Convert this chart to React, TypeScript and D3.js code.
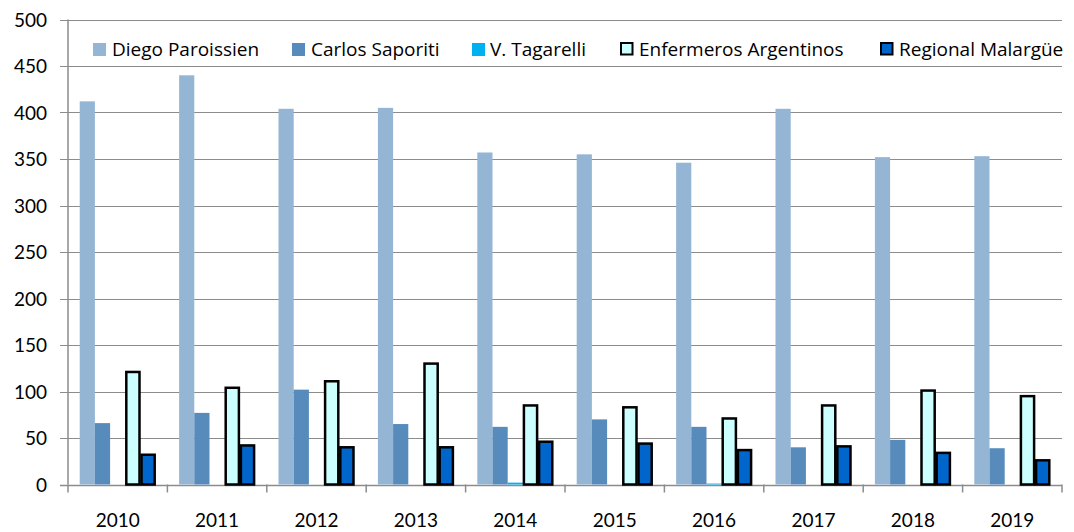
import React from "react";
import * as d3 from "d3";

const years = ["2010", "2011", "2012", "2013", "2014", "2015", "2016", "2017", "2018", "2019"];
const seriesNames = ["Diego Paroissien", "Carlos Saporiti", "V. Tagarelli", "Enfermeros Argentinos", "Regional Malargüe"];
const diego = [412, 440, 404, 405, 357, 355, 346, 404, 352, 353];
const carlos = [66, 77, 102, 65, 62, 70, 62, 40, 48, 39];
const tagarelli = [0, 0, 0, 0, 2, 0, 1, 0, 0, 0];
const enfermeros = [121, 104, 111, 130, 85, 83, 71, 85, 101, 95];
const malargue = [32, 42, 40, 40, 46, 44, 37, 41, 34, 26];
const yTicks = [0, 50, 100, 150, 200, 250, 300, 350, 400, 450, 500];

const seriesValues = [diego, carlos, tagarelli, enfermeros, malargue];
const fills = ["#95B5D5", "#568BBB", "#00B0F0", "#CCFFFF", "#0066CC"];
const strokes = [null, null, null, "#000", "#000"];

const W = 1074, H = 532;
const left = 68, right = 1062, top = 19.5, bottom = 484.5;
const AXFONT = "Lato, 'Open Sans', sans-serif";
const LGFONT = "'Open Sans', Lato, sans-serif";

export default function App() {
  const x = d3.scaleBand().domain(years).range([left, right]).paddingInner(0).paddingOuter(0);
  const inner = d3.scaleBand().domain(seriesNames).range([0, x.bandwidth()]).paddingOuter(0.77).paddingInner(0);
  const y = d3.scaleLinear().domain([0, 500]).range([bottom, top]);

  const legendItems = [
    { mx: 93, tx: 112 },
    { mx: 292, tx: 311 },
    { mx: 472, tx: 490 },
    { mx: 620, tx: 639 },
    { mx: 880, tx: 899 },
  ];

  return (
    <svg width={W} height={H} style={{ position: "absolute", left: 0, top: 0, background: "#fff" }}>
      {yTicks.map((t) => (
        <line key={t} x1={left - 8} x2={right} y1={Math.round(y(t)) + 0.5} y2={Math.round(y(t)) + 0.5}
          stroke="#8C8C8C" strokeWidth={t === 0 ? 1.5 : 1.2} />
      ))}
      <line x1={left} x2={left} y1={top} y2={bottom} stroke="#8C8C8C" strokeWidth={1.5} />
      {years.map((yr) => (
        <line key={yr} x1={x(yr)!} x2={x(yr)!} y1={bottom} y2={bottom + 8} stroke="#8C8C8C" strokeWidth={1.5} />
      ))}
      <line x1={right} x2={right} y1={bottom} y2={bottom + 8} stroke="#8C8C8C" strokeWidth={1.5} />
      {yTicks.map((t) => (
        <text key={t} x={47} y={y(t) + 7} textAnchor="end" fontFamily={AXFONT} fontSize={19} fill="#000">{t}</text>
      ))}
      {years.map((yr) => (
        <text key={yr} x={x(yr)! + x.bandwidth() / 2} y={527} textAnchor="middle" fontFamily={AXFONT} fontSize={19} fill="#000">{yr}</text>
      ))}
      {years.map((yr, i) => (
        <g key={yr}>
          {seriesNames.map((s, j) => {
            const v = seriesValues[j][i];
            if (v <= 0) return null;
            const bx = x(yr)! + inner(s)!;
            const bw = inner.bandwidth();
            const st = strokes[j];
            if (st) {
              return (
                <rect key={s} x={bx + 1} y={y(v)} width={bw - 2} height={bottom - y(v)}
                  fill={fills[j]} stroke={st} strokeWidth={2.5} />
              );
            }
            return <rect key={s} x={bx} y={y(v)} width={bw} height={bottom - y(v)} fill={fills[j]} />;
          })}
        </g>
      ))}
      <rect x={80} y={30} width={982} height={33} fill="#fff" />
      {seriesNames.map((s, j) => (
        <g key={s}>
          {strokes[j] ? (
            <rect x={legendItems[j].mx + 1} y={43} width={11.5} height={11.5} fill={fills[j]} stroke="#000" strokeWidth={2} />
          ) : (
            <rect x={legendItems[j].mx} y={43} width={13} height={13} fill={fills[j]} />
          )}
          <text x={legendItems[j].tx} y={56} fontFamily={LGFONT} fontSize={19} fill="#000">{s}</text>
        </g>
      ))}
    </svg>
  );
}
